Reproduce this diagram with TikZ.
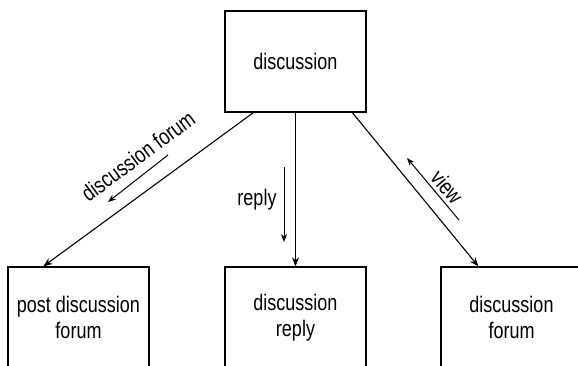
\documentclass[tikz,border=0pt]{standalone}
\usepackage{fontspec}
\setmainfont{Liberation Sans}[FakeStretch=0.8]
\usetikzlibrary{arrows.meta}
\begin{document}
\begin{tikzpicture}[x=1pt,y=-1pt,
		box/.style={draw,line width=1.3pt,minimum width=141pt,minimum height=101pt,inner sep=0pt,align=center,font=\fontsize{22.5}{26}\selectfont},
		tag/.style={inner sep=0pt,font=\fontsize{22.5}{26}\selectfont},
		link/.style={line width=1.1pt,-{Stealth[length=9pt,width=7pt]}},
		hint/.style={line width=1pt,-{Stealth[length=8pt,width=6pt]}}]
				\clip (0,0) rectangle (578,366);
				\node[box] (disc) at (295.5,61.5) {discussion};
				\node[box] (post) at (78.5,317.5) {post discussion\\forum};
				\node[box] (reply) at (295.5,317.5) {discussion\\reply};
				\node[box] (forum) at (511.5,317.5) {discussion\\forum};
				\draw[link] ([xshift=29pt]disc.south west) to ([xshift=36pt]post.north west);
				\draw[link] (disc.south) to (reply.north);
				\draw[link] ([xshift=128pt]disc.south west) to ([xshift=38pt]forum.north west);
				\coordinate (F1) at (168,155);
				\coordinate (F2) at (108,202);
				\coordinate (R1) at (284,167);
				\coordinate (R2) at (284,242);
				\coordinate (V1) at (459,220);
				\coordinate (V2) at (407,158);
				\draw[hint] (F1) to (F2);
				\draw[hint] (R1) to (R2);
				\draw[hint] (V1) to (V2);
				\node[tag,rotate=36.5] (tf) at (138,156) {discussion forum};
				\node[tag] (tr) at (257,200) {reply};
				\node[tag,rotate=-50] (tv) at (447,187) {view};
			\end{tikzpicture}
\end{document}
